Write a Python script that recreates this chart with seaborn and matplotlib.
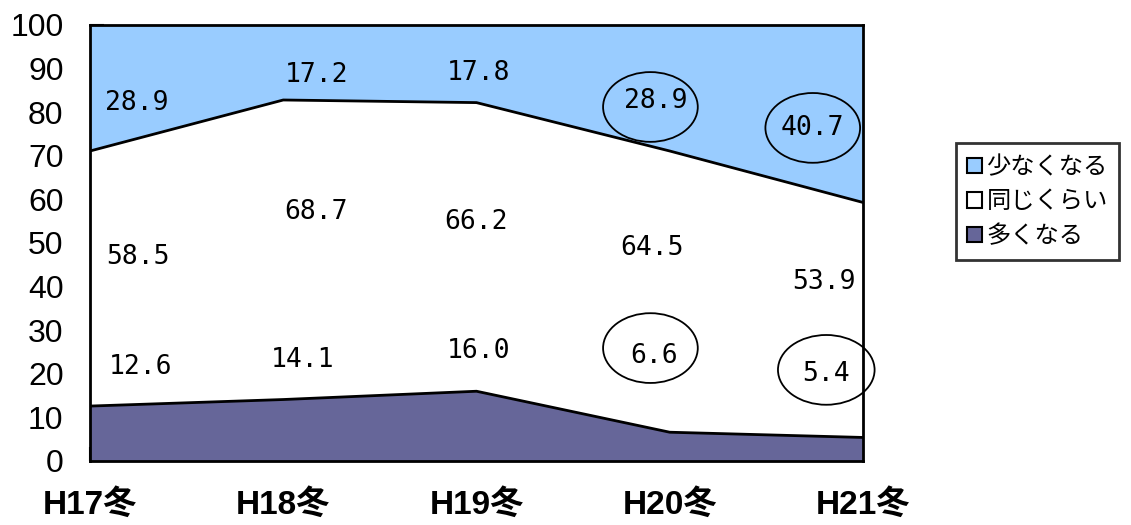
import numpy as np
import pandas as pd
import seaborn as sns
from matplotlib import pyplot as plt
from matplotlib.patches import Patch, Ellipse

# values
years = ['H17冬', 'H18冬', 'H19冬', 'H20冬', 'H21冬']
more = [12.6, 14.1, 16.0, 6.6, 5.4]      # 多くなる
same = [58.5, 68.7, 66.2, 64.5, 53.9]    # 同じくらい
less = [28.9, 17.2, 17.8, 28.9, 40.7]    # 少なくなる
series_names = ['多くなる', '同じくらい', '少なくなる']
colors = ['#666699', '#FFFFFF', '#99CCFF']

# where the data labels sit (x offset in categories, y in data units)
label_pos = {
    '多くなる': [(0.26, 21.6), (1.10, 23.2), (2.01, 25.2), (2.92, 24.0), (3.81, 20.0)],
    '同じくらい': [(0.25, 46.8), (1.17, 57.1), (2.00, 54.8), (2.91, 48.9), (3.80, 41.0)],
    '少なくなる': [(0.24, 82.1), (1.17, 88.5), (2.01, 89.0), (2.93, 82.6), (3.74, 76.4)],
}
# circled labels: (x, y, width, height)
circles = [(2.90, 81.2, 0.49, 16), (3.74, 76.4, 0.49, 16),
           (2.90, 25.9, 0.49, 16), (3.81, 20.9, 0.50, 16)]

df = pd.DataFrame({'year': years, '多くなる': more, '同じくらい': same, '少なくなる': less})

sns.set_theme(style='white')
plt.rcParams['font.family'] = ['Liberation Sans', 'Noto Sans CJK JP', 'DejaVu Sans']
plt.rcParams['text.color'] = 'black'
plt.rcParams['xtick.color'] = 'black'
plt.rcParams['ytick.color'] = 'black'

fig = plt.figure(figsize=(11.31, 5.25), dpi=100)
ax = fig.add_axes([90 / 1131, 1 - 461 / 525, (863 - 90) / 1131, (461 - 25) / 525])

x = np.arange(len(years))
ax.stackplot(x, df['多くなる'], df['同じくらい'], df['少なくなる'],
             colors=colors, edgecolor='none')
cum1 = df['多くなる']
cum2 = df['多くなる'] + df['同じくらい']
sns.lineplot(x=x, y=cum1, ax=ax, color='black', lw=2)
sns.lineplot(x=x, y=cum2, ax=ax, color='black', lw=2)

for name, vals in zip(series_names, [more, same, less]):
    for (px, py), v in zip(label_pos[name], vals):
        ax.text(px, py, f'{v:.1f}', ha='center', va='center', fontsize=19,
                family=['DejaVu Sans Mono'], color='black')

for cx, cy, w, h in circles:
    ax.add_patch(Ellipse((cx, cy), w, h, fill=False, edgecolor='black', lw=1.3, clip_on=False))

ax.set_xlim(0, 4)
ax.set_ylim(0, 100)
ax.set_yticks(range(0, 101, 10))
ax.set_xticks(x)
ax.set_xticklabels(years, fontsize=24, fontweight='bold',
                   family=['Liberation Sans', 'Noto Sans CJK JP'])
ax.tick_params(axis='y', direction='in', length=10, width=1.5, labelsize=23, pad=19, left=True)
ax.tick_params(axis='x', direction='in', length=10, width=1.5, pad=20, bottom=True)
for s in ax.spines.values():
    s.set_color('black')
    s.set_linewidth(2)
ax.set_xlabel('')
ax.set_ylabel('')

handles = [Patch(facecolor=colors[i], edgecolor='black', lw=1.5, label=series_names[i])
           for i in [2, 1, 0]]
leg = fig.legend(handles=handles, loc='upper left',
                 bbox_to_anchor=(956 / 1131, 1 - 143 / 525), frameon=True, fancybox=False,
                 prop={'family': ['Noto Sans CJK JP'], 'size': 17.5},
                 handlelength=0.6, handleheight=0.6, handletextpad=0.2,
                 labelspacing=0.35, borderpad=0.45, borderaxespad=0)
leg.get_frame().set_edgecolor('black')
leg.get_frame().set_linewidth(2)

fig.savefig('out.png', dpi=100)
